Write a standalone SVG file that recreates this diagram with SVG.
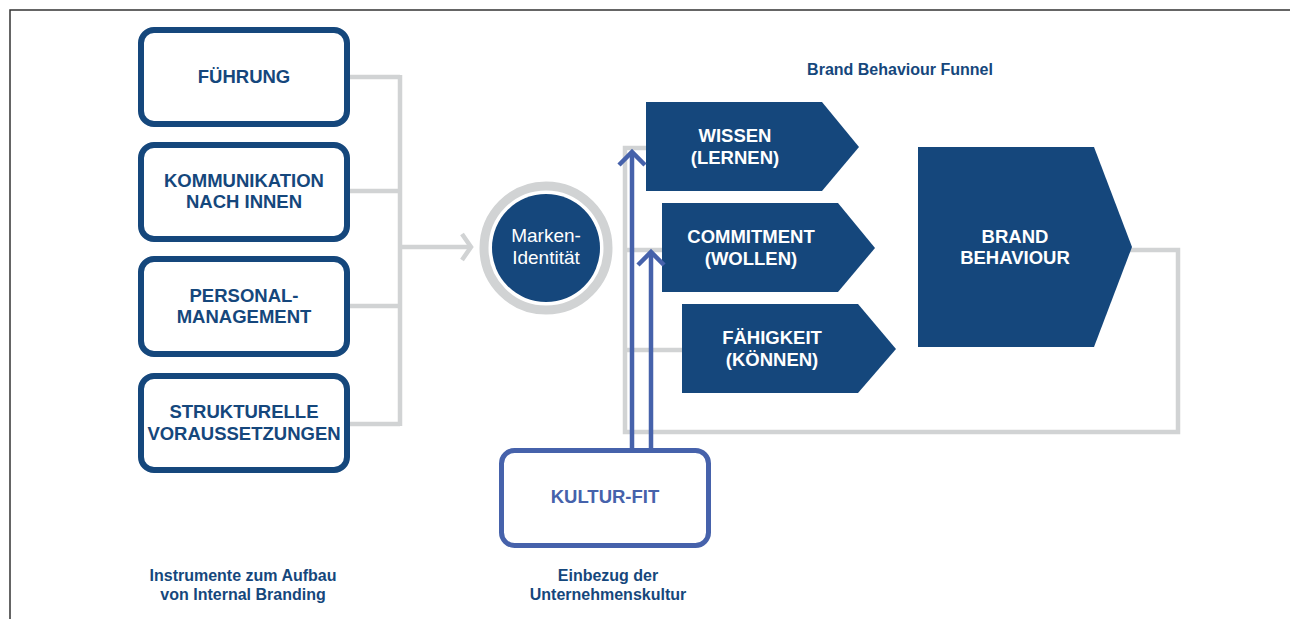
<svg xmlns="http://www.w3.org/2000/svg" width="1290" height="619" viewBox="0 0 1290 619">
  <style>
    .box { fill: #ffffff; stroke: #15477c; stroke-width: 6; }
    .kbox { fill: #ffffff; stroke: #4662ab; stroke-width: 5; }
    .btxt { font-family: "Liberation Sans", Arial, sans-serif; font-weight: bold; font-size: 18.5px; fill: #15477c; text-anchor: middle; }
    .wtxt { font-family: "Liberation Sans", Arial, sans-serif; font-weight: bold; font-size: 18.5px; fill: #ffffff; text-anchor: middle; }
    .ktxt { font-family: "Liberation Sans", Arial, sans-serif; font-weight: bold; font-size: 18.5px; fill: #4662ab; text-anchor: middle; }
    .cap { font-family: "Liberation Sans", Arial, sans-serif; font-weight: bold; font-size: 16px; fill: #15477c; text-anchor: middle; }
    .arrowshape { fill: #15477c; }
    .gray { fill: none; stroke: #d1d3d4; stroke-width: 4.5; }
    .blue { fill: none; stroke: #4662ab; stroke-width: 4.5; }
  </style>

  <!-- frame -->
  <path d="M10,619 V10 H1290" fill="none" stroke="#333333" stroke-width="1.5"/>

  <g id="connectors">
    <path class="gray" d="M350,77 H400 M350,191 H400 M350,306 H400 M350,424 H400 M400,75 V426"/>
    <path class="gray" d="M400,247 H469"/>
    <polyline class="gray" points="462,234 471,247 462,260"/>
    <path class="gray" d="M1130,250 H1178 V432 H625 V148 H650"/>
    <path class="gray" d="M625,250 H666 M625,350 H686"/>
  </g>

  <g id="node-fuehrung">
    <rect class="box" x="141" y="30" width="206" height="94" rx="13"/>
    <text class="btxt" x="244" y="83">FÜHRUNG</text>
  </g>
  <g id="node-kommunikation">
    <rect class="box" x="141" y="145" width="206" height="94" rx="13"/>
    <text class="btxt" x="244" y="187">KOMMUNIKATION</text>
    <text class="btxt" x="244" y="208">NACH INNEN</text>
  </g>
  <g id="node-personal">
    <rect class="box" x="141" y="259" width="206" height="95" rx="13"/>
    <text class="btxt" x="244" y="302">PERSONAL-</text>
    <text class="btxt" x="244" y="323">MANAGEMENT</text>
  </g>
  <g id="node-strukturelle">
    <rect class="box" x="141" y="376" width="206" height="94" rx="13"/>
    <text class="btxt" x="244" y="418">STRUKTURELLE</text>
    <text class="btxt" x="244" y="440">VORAUSSETZUNGEN</text>
  </g>

  <g id="node-markenidentitaet">
    <circle cx="546" cy="248" r="62" fill="#ffffff" stroke="#d1d3d4" stroke-width="9"/>
    <circle cx="546" cy="248" r="54" fill="#15477c"/>
    <text x="546" y="242" font-family="Liberation Sans, Arial, sans-serif" font-size="19" fill="#ffffff" text-anchor="middle">Marken-</text>
    <text x="546" y="264" font-family="Liberation Sans, Arial, sans-serif" font-size="19" fill="#ffffff" text-anchor="middle">Identität</text>
  </g>

  <g id="title-funnel">
    <text class="cap" x="900" y="75">Brand Behaviour Funnel</text>
  </g>

  <g id="node-wissen">
    <polygon class="arrowshape" points="646,102 822,102 859,147 822,191 646,191"/>
    <text class="wtxt" x="735" y="142">WISSEN</text>
    <text class="wtxt" x="735" y="164">(LERNEN)</text>
  </g>
  <g id="node-commitment">
    <polygon class="arrowshape" points="662,203 838,203 875,248 838,292 662,292"/>
    <text class="wtxt" x="751" y="243">COMMITMENT</text>
    <text class="wtxt" x="751" y="265">(WOLLEN)</text>
  </g>
  <g id="node-faehigkeit">
    <polygon class="arrowshape" points="682,304 858,304 896,349 858,393 682,393"/>
    <text class="wtxt" x="772" y="344">FÄHIGKEIT</text>
    <text class="wtxt" x="772" y="366">(KÖNNEN)</text>
  </g>
  <g id="node-brandbehaviour">
    <polygon class="arrowshape" points="918,147 1094,147 1132,247 1094,347 918,347"/>
    <text class="wtxt" x="1015" y="243">BRAND</text>
    <text class="wtxt" x="1015" y="264">BEHAVIOUR</text>
  </g>

  <g id="connectors-kultur">
    <path class="blue" d="M632,449 V154 M651,449 V254"/>
    <polyline class="blue" points="619,165 632,152 645,165"/>
    <polyline class="blue" points="638,265 651,252 664,265"/>
  </g>

  <g id="node-kulturfit">
    <rect class="kbox" x="501.5" y="450.5" width="207" height="95" rx="13"/>
    <text class="ktxt" x="605" y="503">KULTUR-FIT</text>
  </g>

  <g id="caption-instrumente">
    <text class="cap" x="243" y="581">Instrumente zum Aufbau</text>
    <text class="cap" x="243" y="600">von Internal Branding</text>
  </g>
  <g id="caption-kultur">
    <text class="cap" x="608" y="581">Einbezug der</text>
    <text class="cap" x="608" y="600">Unternehmenskultur</text>
  </g>
</svg>
